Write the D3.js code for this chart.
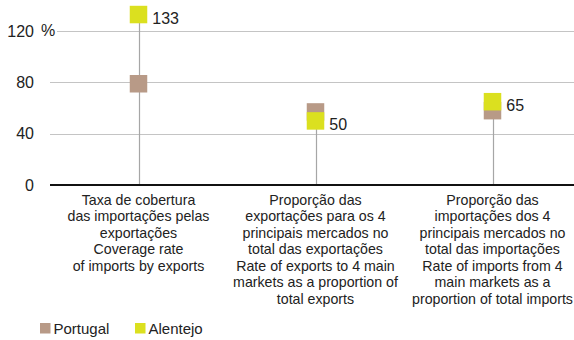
<!DOCTYPE html>
<html>
<head>
<meta charset="utf-8">
<script src="https://cdn.jsdelivr.net/npm/d3@7"></script>
<style>
  html, body { margin: 0; padding: 0; background: #fff; }
  svg { display: block; font-family: "Liberation Sans", Arial, sans-serif; }
</style>
</head>
<body>
<svg id="chart" width="574" height="340"></svg>
<script>
// Indicator categories (label lines as shown under the axis)
const categories = [
  ["Taxa de cobertura", "das importações pelas", "exportações", "Coverage rate", "of imports by exports"],
  ["Proporção das", "exportações para os 4", "principais mercados no", "total das exportações", "Rate of exports to 4 main", "markets as a proportion of", "total exports"],
  ["Proporção das", "importações dos 4", "principais mercados no", "total das importações", "Rate of imports from 4", "main markets as a", "proportion of total imports"]
];
const seriesNames = ["Portugal", "Alentejo"];
const portugal = [79, 57, 58];
const alentejo = [133, 50, 65];
const tickValues = [0, 40, 80, 120];
const unitLabel = "%";

const colors = { Portugal: "#b89a87", Alentejo: "#dbe01f" };

const svg = d3.select("#chart");
const ids = categories.map((c, i) => i);

const x = d3.scaleBand().domain(ids).range([50, 581]);
const y = d3.scaleLinear().domain([0, 120]).range([185, 31.2]);

// Horizontal gridlines
svg.append("g").selectAll("line")
  .data(tickValues.filter(v => v > 0))
  .join("line")
  .attr("x1", d => d === 120 ? 57 : 50)
  .attr("x2", 574)
  .attr("y1", d => Math.round(y(d)) + 0.5)
  .attr("y2", d => Math.round(y(d)) + 0.5)
  .attr("stroke", "#c4c4c4")
  .attr("stroke-width", 1);

// Y axis labels
const yAxis = d3.axisLeft(y).tickValues(tickValues).tickSize(0).tickPadding(0);
const gy = svg.append("g").attr("transform", "translate(34,0)").call(yAxis);
gy.select(".domain").remove();
gy.selectAll("text")
  .attr("font-size", 16)
  .attr("fill", "#222")
  .attr("font-family", "Liberation Sans, Arial, sans-serif");
svg.append("text")
  .attr("x", 41)
  .attr("y", y(120))
  .attr("dy", "0.32em")
  .attr("font-size", 16)
  .attr("fill", "#222")
  .text(unitLabel);

// Stems from zero up to the highest value of each category
svg.append("g").selectAll("line")
  .data(ids)
  .join("line")
  .attr("x1", d => Math.round(x(d) + x.bandwidth() / 2) + 0.5)
  .attr("x2", d => Math.round(x(d) + x.bandwidth() / 2) + 0.5)
  .attr("y1", y(0))
  .attr("y2", d => y(Math.max(portugal[d], alentejo[d])))
  .attr("stroke", "#a6a6a6")
  .attr("stroke-width", 1.2);

// Baseline
svg.append("line")
  .attr("x1", 50).attr("x2", 574)
  .attr("y1", y(0)).attr("y2", y(0))
  .attr("stroke", "#111")
  .attr("stroke-width", 2);

// Square markers
const size = 17.5;
const seriesData = [
  { name: "Portugal", values: portugal },
  { name: "Alentejo", values: alentejo }
];
seriesData.forEach(s => {
  svg.append("g").selectAll("rect")
    .data(s.values.map((v, i) => ({ v, i })))
    .join("rect")
    .attr("x", d => x(d.i) + x.bandwidth() / 2 - size / 2)
    .attr("y", d => y(d.v) - size / 2)
    .attr("width", size)
    .attr("height", size)
    .attr("fill", colors[s.name]);
});

// Value labels for Alentejo
svg.append("g").selectAll("text")
  .data(alentejo.map((v, i) => ({ v, i })))
  .join("text")
  .attr("x", d => x(d.i) + x.bandwidth() / 2 + size / 2 + 5)
  .attr("y", d => y(d.v) + 4)
  .attr("dy", "0.32em")
  .attr("font-size", 16)
  .attr("fill", "#222")
  .text(d => d.v);

// Category labels
const catG = svg.append("g");
categories.forEach((lines, i) => {
  const t = catG.append("text")
    .attr("text-anchor", "middle")
    .attr("font-size", 14.2)
    .attr("fill", "#222");
  lines.forEach((ln, k) => {
    t.append("tspan")
      .attr("x", x(i) + x.bandwidth() / 2)
      .attr("y", 204.5 + k * 16.5)
      .text(ln);
  });
});

// Legend
const legend = svg.append("g");
const legendX = [40, 135];
seriesNames.forEach((name, i) => {
  legend.append("rect")
    .attr("x", legendX[i]).attr("y", 323)
    .attr("width", 10.5).attr("height", 10.5)
    .attr("fill", colors[name]);
  legend.append("text")
    .attr("x", legendX[i] + 13.5)
    .attr("y", 328.5)
    .attr("dy", "0.35em")
    .attr("font-size", 15)
    .attr("fill", "#222")
    .text(name);
});
</script>
</body>
</html>
